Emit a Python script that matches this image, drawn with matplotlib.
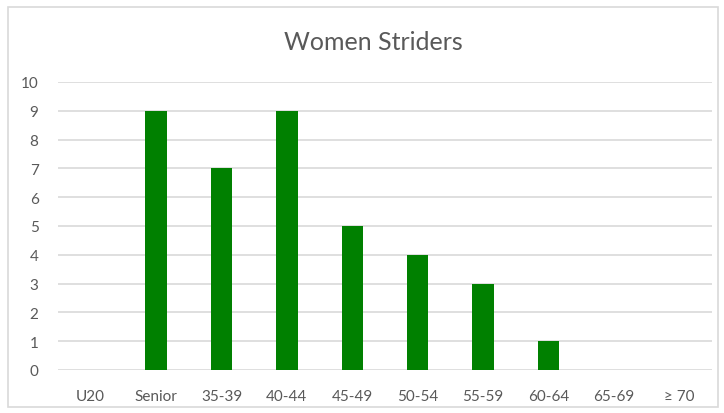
import matplotlib.pyplot as plt
from matplotlib.patches import Rectangle

categories = ["U20", "Senior", "35-39", "40-44", "45-49", "50-54", "55-59", "60-64", "65-69", "\u2265 70"]
counts = [0, 9, 7, 9, 5, 4, 3, 1, 0, 0]

plt.rcParams['font.family'] = ['Lato', 'DejaVu Sans']

W, H = 724, 414
fig = plt.figure(figsize=(W / 100, H / 100), dpi=100)
# axes area in pixels: x 58..712, y(top) 83..371
ax = fig.add_axes([58 / W, 1 - 371 / H, (712 - 58) / W, (371 - 83) / H])

x = range(len(categories))
ax.bar(x, counts, width=0.33, color="#008000", zorder=3)

ax.set_xlim(-0.5, len(categories) - 0.5)
ax.set_ylim(0, 10)
ax.set_yticks(range(0, 11))
ax.set_xticks(list(x))
ax.set_xticklabels(categories)
ax.yaxis.grid(True, color="#d9d9d9", linewidth=1.2, zorder=0)
for s in ax.spines.values():
    s.set_visible(False)
ax.tick_params(axis="both", length=0, colors="#595959", labelsize=11)
ax.tick_params(axis="y", pad=14)
ax.tick_params(axis="x", pad=14)

fig.text(373 / W, 1 - 43 / H, "Women Striders", ha="center", va="center",
         fontsize=18, color="#595959")

# chart border
fig.patches.append(Rectangle((8 / W, 6 / H), (718 - 8) / W, (406 - 6) / H,
                             transform=fig.transFigure, fill=False,
                             edgecolor="#d9d9d9", linewidth=1.2))

fig.savefig("out.png", dpi=100)
